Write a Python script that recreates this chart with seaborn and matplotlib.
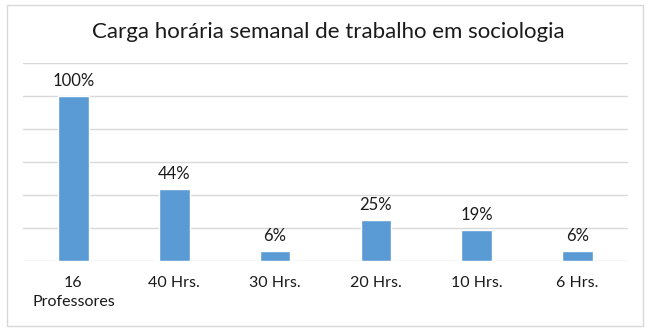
import matplotlib
matplotlib.use("Agg")
import matplotlib.pyplot as plt
import matplotlib.patches as mpatches
import seaborn as sns
import pandas as pd

categories = ["16\nProfessores", "40 Hrs.", "30 Hrs.", "20 Hrs.", "10 Hrs.", "6 Hrs."]
percentages = [100, 44, 6, 25, 19, 6]
title = "Carga horária semanal de trabalho em sociologia"

sns.set_theme(style="white")
plt.rcParams["font.family"] = ["Lato", "DejaVu Sans"]

W, H = 657, 333
fig = plt.figure(figsize=(W / 100, H / 100), dpi=100)
fig.patch.set_facecolor("white")

# outer chart frame
fig.add_artist(mpatches.Rectangle((7 / W, 7 / H), 636 / W, 321 / H,
                                  transform=fig.transFigure, fill=False,
                                  edgecolor="#D9D9D9", linewidth=1))

ax = fig.add_axes([23 / W, (H - 261) / H, 605 / W, (261 - 63.3) / H])
df = pd.DataFrame({"categoria": categories, "valor": percentages})
sns.barplot(data=df, x="categoria", y="valor", ax=ax, color="#5B9BD5",
            saturation=1, width=0.305, zorder=3)

ax.set_ylim(0, 120)
ax.set_xlim(-0.5, len(categories) - 0.5)
ax.set_yticks(range(0, 121, 20))
ax.yaxis.grid(True, color="#D9D9D9", linewidth=1)
ax.set_axisbelow(True)
ax.tick_params(axis="y", left=False, labelleft=False)
ax.tick_params(axis="x", length=0, pad=11, labelsize=11.5, labelcolor="#1a1a1a")
for lbl in ax.get_xticklabels():
    lbl.set_linespacing(1.45)
for s in ax.spines.values():
    s.set_visible(False)
ax.set_xlabel("")
ax.set_ylabel("")

ax.bar_label(ax.containers[0], labels=[f"{v}%" for v in percentages],
             padding=5, fontsize=12, color="#1a1a1a")

fig.text(0.5, (H - 32) / H, title, ha="center", va="center",
         fontsize=16, color="#1a1a1a")

fig.savefig("out.png", dpi=100)
